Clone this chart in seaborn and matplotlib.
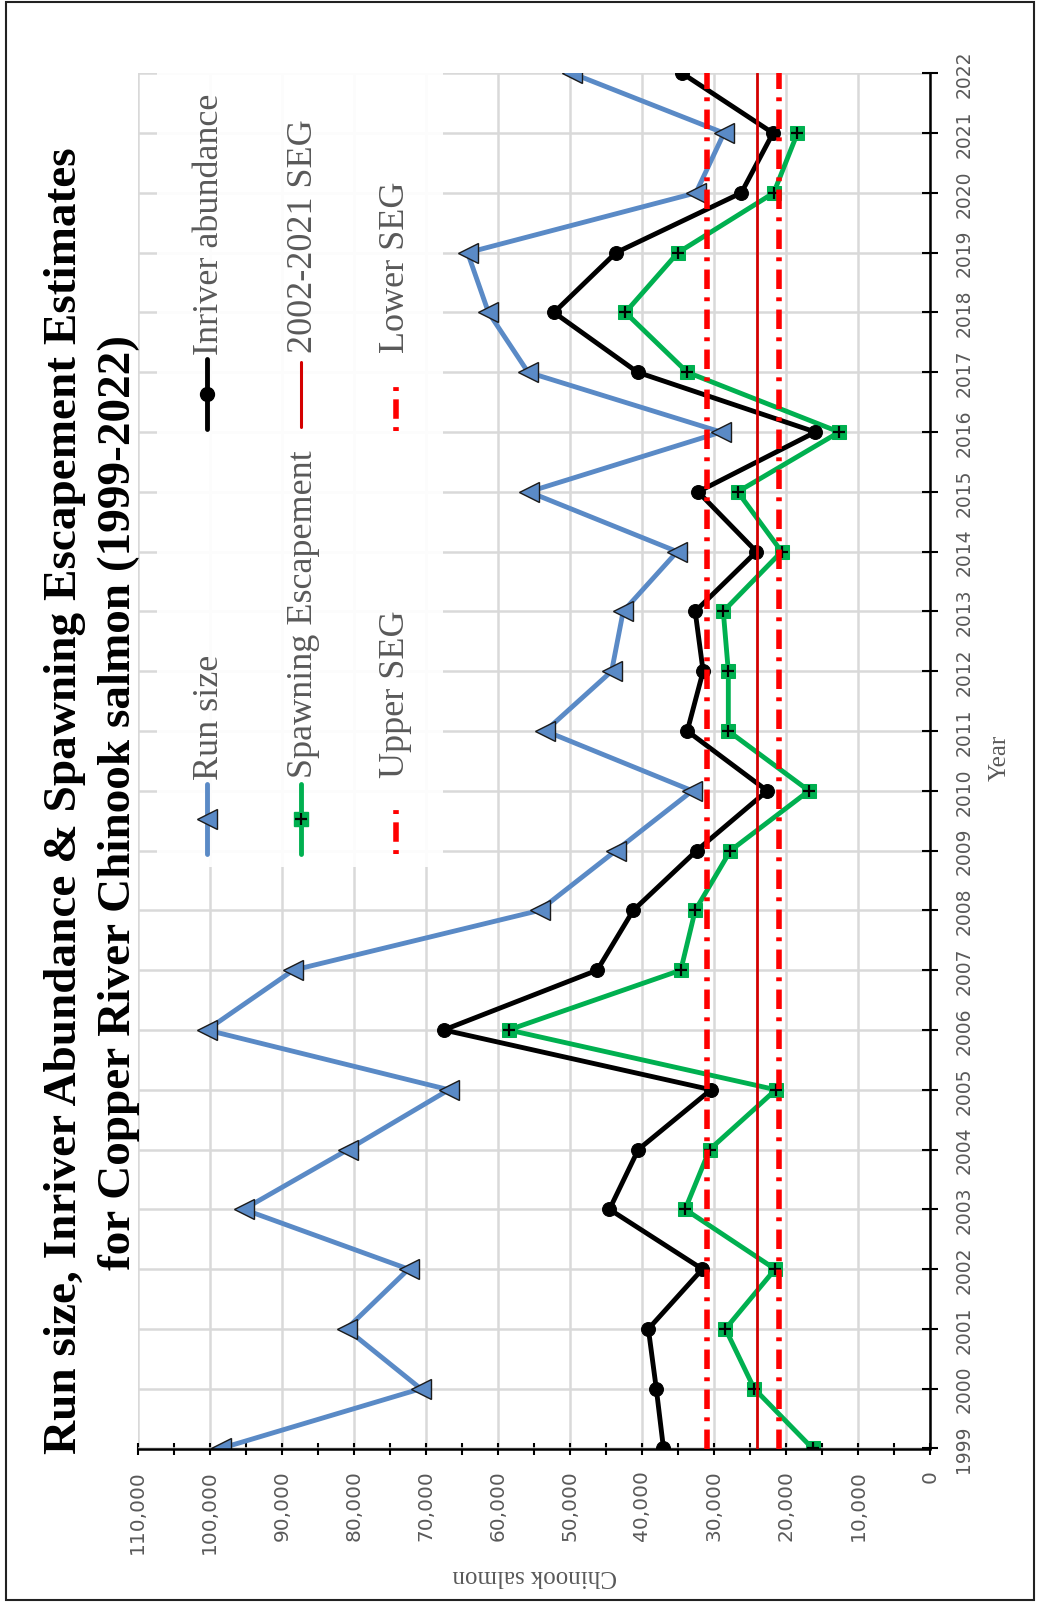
import numpy as np
import pandas as pd
import matplotlib
matplotlib.use("Agg")
import matplotlib.pyplot as plt
from matplotlib.lines import Line2D
from matplotlib.patches import Rectangle
from matplotlib.ticker import MultipleLocator, StrMethodFormatter
import seaborn as sns

# ---------------- data ----------------
years = list(range(1999, 2023))
run_size = [98500, 70700, 81000, 72400, 95300, 80800, 66800, 100400, 88400, 54200,
            43600, 33000, 53400, 44200, 42600, 35100, 55700, 29000, 55800, 61300,
            64200, 32500, 28600, 49700]
inriver = [37000, 38000, 39100, 31600, 44500, 40500, 30400, 67500, 46200, 41200,
           32400, 22600, 33700, 31500, 32600, 24100, 32200, 15900, 40600, 52200,
           43600, 26200, 21800, 34400]
spawn_years = list(range(1999, 2022))
spawning = [16300, 24400, 28400, 21500, 34000, 30600, 21400, 58500, 34600, 32600,
            27700, 16800, 28000, 28000, 28700, 20600, 26700, 12600, 33700, 42300,
            35000, 21700, 18400]
upper_seg = 31000
lower_seg = 21000
seg_2002_2021 = 24000
value_ticks = list(range(0, 110001, 10000))

title1 = "Run size, Inriver Abundance & Spawning Escapement Estimates"
title2 = "for Copper River Chinook salmon (1999-2022)"
legend_labels = ["Run size", "Inriver abundance", "Spawning Escapement",
                 "2002-2021 SEG", "Upper SEG", "Lower SEG"]

# ---------------- style ----------------
sns.set_style("white")
plt.rcParams['font.family'] = ['DejaVu Sans']
SERIF = ['Liberation Serif', 'DejaVu Serif']
GREY = '#595959'
BLUE = '#5A8AC6'
GREEN = '#00B050'
RED = '#FF0000'
DARKRED = '#D40000'
SEG_LW = 4.0
SEG_DASH = (0, (3.5, 1.5, 0.7, 1.5))
SEG_DASH_LEG = (0, (0.7, 1.5, 3.5, 1.5))

W, H = 1038, 1608
fig = plt.figure(figsize=(W / 100, H / 100), dpi=100)
fig.patch.set_facecolor('white')

def fx(px):
    return px / W

def fy(py):
    return 1 - py / H

x0, x1 = 137.7, 930.0
ytop, ybot = 74.3, 1449.5
ax = fig.add_axes([fx(x0), fy(ybot), (x1 - x0) / W, (ybot - ytop) / H])
ax.set_facecolor('white')

df_run = pd.DataFrame({"year": years, "value": run_size})
df_in = pd.DataFrame({"year": years, "value": inriver})
df_sp = pd.DataFrame({"year": spawn_years, "value": spawning})

sns.lineplot(data=df_run, x="value", y="year", orient="y", estimator=None, sort=True,
             ax=ax, color=BLUE, linewidth=3.5, marker='<', markersize=14,
             markerfacecolor=BLUE, markeredgecolor='#1a1a1a', markeredgewidth=1.0,
             legend=False, zorder=2)
sns.lineplot(data=df_in, x="value", y="year", orient="y", estimator=None, sort=True,
             ax=ax, color='black', linewidth=3.5, marker='o', markersize=10,
             markerfacecolor='black', markeredgecolor='black', legend=False, zorder=2.2)
sns.lineplot(data=df_sp, x="value", y="year", orient="y", estimator=None, sort=True,
             ax=ax, color=GREEN, linewidth=3.5, marker='s', markersize=10,
             markerfacecolor=GREEN, markeredgecolor=GREEN, legend=False, zorder=2.1)
ax.plot(df_sp["value"], df_sp["year"], linestyle='none', marker='+', markersize=9,
        markeredgewidth=1.6, color='black', zorder=2.15)

# SEG reference lines
ax.axvline(upper_seg, color=RED, linewidth=SEG_LW, linestyle=SEG_DASH, zorder=3)
ax.axvline(lower_seg, color=RED, linewidth=SEG_LW, linestyle=SEG_DASH, zorder=3)
ax.axvline(seg_2002_2021, color=DARKRED, linewidth=2.0, zorder=3)

# axes
ax.set_xlim(110000, 0)
ax.set_ylim(1999, 2022)
ax.set_xticks(value_ticks)
ax.xaxis.set_minor_locator(MultipleLocator(5000))
ax.xaxis.set_major_formatter(StrMethodFormatter('{x:,.0f}'))
ax.set_yticks(years)
ax.yaxis.tick_right()
ax.set_axisbelow(True)
ax.grid(True, which='major', color='#D9D9D9', linewidth=1.8)
ax.set_xlabel("")
ax.set_ylabel("")
for s in ['left', 'top']:
    ax.spines[s].set_visible(False)
for s in ['bottom', 'right']:
    ax.spines[s].set_visible(True)
    ax.spines[s].set_color('black')
    ax.spines[s].set_linewidth(1.8)
ax.tick_params(axis='x', which='both', direction='inout', length=8, width=1.5,
               color='black', bottom=True)
ax.tick_params(axis='x', which='major', labelsize=14.5, labelcolor=GREY, pad=11,
               labelrotation=90)
ax.tick_params(axis='y', which='major', direction='inout', length=11, width=1.5,
               color='black', right=True, left=False, labelsize=13.5,
               labelcolor=GREY, pad=12, labelrotation=90)
for lab in ax.get_yticklabels():
    lab.set_va('center')

# legend background
ax.add_patch(Rectangle((fx(157), fy(868)), fx(443) - fx(157), fy(55) - fy(868),
                       transform=fig.transFigure, facecolor='white', edgecolor='none',
                       alpha=0.93, zorder=1.5, clip_on=False))

# legend entries (drawn rotated, as in the reference)
LFS = 26
def handle_line(xc, ytop_px, ybot_px, **kw):
    fig.add_artist(Line2D([fx(xc), fx(xc)], [fy(ybot_px), fy(ytop_px)],
                          transform=fig.transFigure, **kw))

def handle_marker(xc, yc, **kw):
    fig.add_artist(Line2D([fx(xc)], [fy(yc)], transform=fig.transFigure,
                          linestyle='none', **kw))

# Run size
handle_line(207, 785, 855, color=BLUE, linewidth=3.5)
handle_marker(207, 820, marker='<', markersize=14, markerfacecolor=BLUE,
              markeredgecolor='#1a1a1a', markeredgewidth=1.0)
# Inriver abundance
handle_line(207, 360, 430, color='black', linewidth=3.5)
handle_marker(207, 395, marker='o', markersize=10, color='black')
# Spawning Escapement
handle_line(301, 785, 855, color=GREEN, linewidth=3.5)
handle_marker(301, 820, marker='s', markersize=10, color=GREEN)
handle_marker(301, 820, marker='+', markersize=9, markeredgewidth=1.6, color='black')
# 2002-2021 SEG
handle_line(301, 363, 428, color=DARKRED, linewidth=2.2)
# Upper SEG
handle_line(396, 805, 855, color=RED, linewidth=SEG_LW, linestyle=SEG_DASH_LEG)
# Lower SEG
handle_line(396, 382, 432, color=RED, linewidth=SEG_LW, linestyle=SEG_DASH_LEG)

leg_pos = [(210, 780), (210, 355), (303, 778), (303, 353), (395, 778), (395, 353)]
for lab, (lx, ly) in zip(legend_labels, leg_pos):
    fig.text(fx(lx), fy(ly), lab, rotation=90, ha='center', va='bottom',
             fontsize=LFS, color=GREY, family=SERIF)

# titles
fig.text(fx(65), fy(801), title1, rotation=90, ha='center', va='center',
         fontsize=34, fontweight='bold', color='black', family=SERIF)
fig.text(fx(119), fy(802), title2, rotation=90, ha='center', va='center',
         fontsize=34, fontweight='bold', color='black', family=SERIF)

# axis titles
fig.text(fx(1000), fy(758), "Year", rotation=90, ha='center', va='center',
         fontsize=18, color=GREY, family=SERIF)
fig.text(fx(535), fy(1576), "Chinook salmon", rotation=180, ha='center', va='center',
         fontsize=18, color=GREY, family=SERIF)

# outer border
fig.add_artist(Rectangle((fx(6), fy(1601)), fx(1034) - fx(6), fy(3) - fy(1601),
                         transform=fig.transFigure, fill=False, edgecolor='#222222',
                         linewidth=1.5))

fig.savefig("out.png", dpi=100, facecolor='white')
